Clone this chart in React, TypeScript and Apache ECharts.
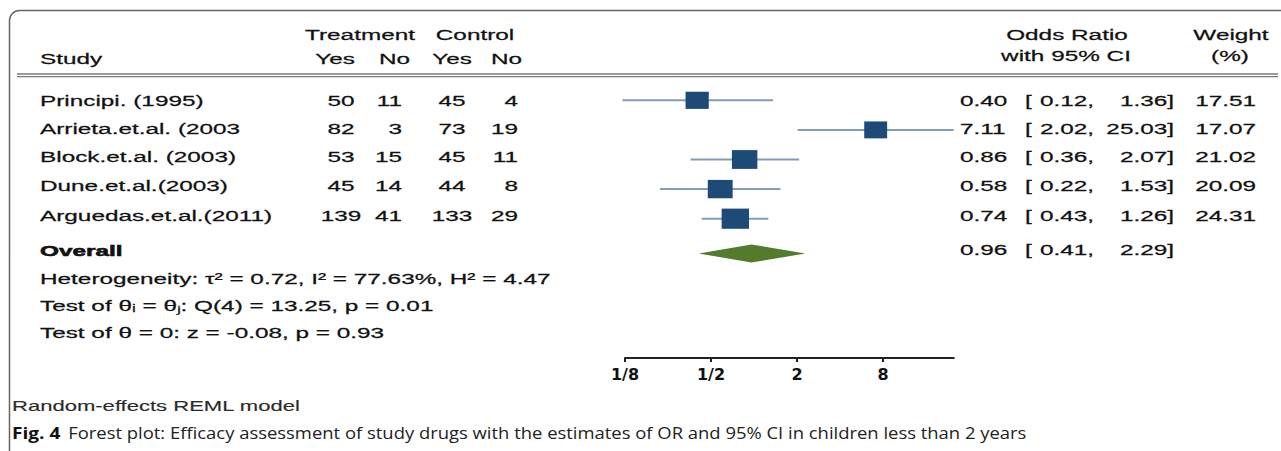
import React, { useEffect, useRef } from "react";
import * as echarts from "echarts";

// ---------- data ----------
const studies = [
  "Principi. (1995)",
  "Arrieta.et.al. (2003",
  "Block.et.al. (2003)",
  "Dune.et.al.(2003)",
  "Arguedas.et.al.(2011)",
];
const treatYes = [50, 82, 53, 45, 139];
const treatNo = [11, 3, 15, 14, 41];
const ctrlYes = [45, 73, 45, 44, 133];
const ctrlNo = [4, 19, 11, 8, 29];
const oddsRatio = [0.4, 7.11, 0.86, 0.58, 0.74];
const ciLow = [0.12, 2.02, 0.36, 0.22, 0.43];
const ciHigh = [1.36, 25.03, 2.07, 1.53, 1.26];
const weights = [17.51, 17.07, 21.02, 20.09, 24.31];
const overallLabel = "Overall";
const overallOR = [0.96];
const overallLow = [0.41];
const overallHigh = [2.29];
const tickValues = [0.125, 0.5, 2, 8];
const tickLabels = ["1/8", "1/2", "2", "8"];
const statLines = [
  "Heterogeneity: τ² = 0.72, I² = 77.63%, H² = 4.47",
  "Test of θᵢ = θⱼ: Q(4) = 13.25, p = 0.01",
  "Test of θ = 0: z = -0.08, p = 0.93",
];
const modelNote = "Random-effects REML model";
const captionBold = "Fig. 4";
const captionText =
  "Forest plot: Efficacy assessment of study drugs with the estimates of OR and 95% CI in children less than 2 years";

// ---------- layout ----------
const SX = 1.57;
const FS = 15.5;
const FONT = '"Liberation Sans", Arial, Helvetica, sans-serif';
const INK = "#111";
const textRows = [100.3, 128.7, 157, 185.6, 215.3];
const overallTextY = 251;
const statRows = [279, 306, 333];
const markRow0 = 100.3;
const markStep = 29.6;
const diamondRow = (253.5 - markRow0) / markStep;
const axisY = 358;

function txt(
  text: string,
  x: number,
  y: number,
  align: string = "left",
  extra: any = {}
) {
  return {
    type: "text",
    x,
    y,
    scaleX: extra.scaleX ?? SX,
    z: 10,
    style: {
      text,
      fill: extra.fill ?? INK,
      stroke: extra.fill ?? INK,
      lineWidth: extra.lineWidth ?? 0.25,
      fontSize: extra.fontSize ?? FS,
      fontFamily: extra.fontFamily ?? FONT,
      fontWeight: extra.fontWeight ?? "normal",
      align,
      verticalAlign: "middle",
      textAlign: align,
      textVerticalAlign: "middle",
    },
  };
}

export default function App() {
  const ref = useRef<HTMLDivElement>(null);

  useEffect(() => {
    if (!ref.current) return;
    const chart = echarts.init(ref.current, undefined, { renderer: "svg" });
    const log2 = (v: number) => Math.log(v) / Math.LN2;
    const tickLog = tickValues.map(log2);
    const xMin = log2(tickValues[0]);
    const xMax = log2(Math.max(...ciHigh));
    const yMin = -1;
    const gridTop = markRow0 - markStep;
    const gridHeight = axisY - gridTop;
    const yMax = yMin + gridHeight / markStep;

    const studyData = studies.map((_, i) => [
      log2(oddsRatio[i]),
      log2(ciLow[i]),
      log2(ciHigh[i]),
      weights[i],
      i,
    ]);
    const overallData = overallOR.map((v, i) => [
      log2(v),
      log2(overallLow[i]),
      log2(overallHigh[i]),
      diamondRow,
    ]);

    const f2 = (v: number) => v.toFixed(2);
    const graphics: any[] = [];
    // frame
    graphics.push({
      type: "rect",
      shape: { x: 9.5, y: 10.5, width: 1400, height: 600, r: 10 },
      style: { fill: "none", stroke: "#666", lineWidth: 1.5 },
      z: 1,
    });
    // double rule under header
    [74, 76.6].forEach((yy) =>
      graphics.push({
        type: "line",
        shape: { x1: 17, y1: yy, x2: 1278, y2: yy },
        style: { stroke: "#7a7a7a", lineWidth: 1.3 },
        z: 2,
      })
    );
    // headers
    graphics.push(txt("Treatment", 360, 35, "center"));
    graphics.push(txt("Control", 475, 35, "center"));
    graphics.push(txt("Study", 40, 59));
    graphics.push(txt("Yes", 355, 59, "right"));
    graphics.push(txt("No", 410, 59, "right"));
    graphics.push(txt("Yes", 472, 59, "right"));
    graphics.push(txt("No", 522, 59, "right"));
    graphics.push(txt("Odds Ratio", 1067, 35, "center"));
    graphics.push(txt("with 95% CI", 1066, 56, "center"));
    graphics.push(txt("Weight", 1231, 35, "center"));
    graphics.push(txt("(%)", 1230, 56, "center"));
    // study rows
    studies.forEach((s, i) => {
      const y = textRows[i];
      graphics.push(txt(s, 40, y));
      graphics.push(txt(String(treatYes[i]), 341, y, "center"));
      graphics.push(txt(String(treatNo[i]), 402, y, "right"));
      graphics.push(txt(String(ctrlYes[i]), 452, y, "center"));
      graphics.push(txt(String(ctrlNo[i]), 518, y, "right"));
      graphics.push(txt(f2(oddsRatio[i]), 960, y));
      graphics.push(txt("[", 1025, y));
      graphics.push(txt(f2(ciLow[i]) + ",", 1094, y, "right"));
      graphics.push(txt(f2(ciHigh[i]) + "]", 1174, y, "right"));
      graphics.push(txt(f2(weights[i]), 1256, y, "right"));
    });
    // overall row
    graphics.push(txt(overallLabel, 40, overallTextY, "left", { fontWeight: "bold", lineWidth: 0.6 }));
    graphics.push(txt(f2(overallOR[0]), 960, overallTextY - 1));
    graphics.push(txt("[", 1025, overallTextY - 1));
    graphics.push(txt(f2(overallLow[0]) + ",", 1094, overallTextY - 1, "right"));
    graphics.push(txt(f2(overallHigh[0]) + "]", 1174, overallTextY - 1, "right"));
    // statistics
    statLines.forEach((s, i) => graphics.push(txt(s, 40, statRows[i])));
    // notes
    graphics.push(txt(modelNote, 12, 406, "left", { scaleX: 1.47, fontSize: 15, fill: "#2a2a2a", lineWidth: 0.15 }));
    graphics.push({
      type: "text",
      x: 12,
      y: 433,
      scaleX: 1.19,
      z: 10,
      style: {
        text: "{b|" + captionBold + "}  {n|" + captionText + "}",
        align: "left",
        verticalAlign: "middle",
        textAlign: "left",
        textVerticalAlign: "middle",
        rich: {
          b: {
            fontFamily: '"Open Sans", "Noto Sans", sans-serif',
            fontWeight: "bold",
            fontSize: 16,
            fill: "#111",
          },
          n: {
            fontFamily: '"Open Sans", "Noto Sans", sans-serif',
            fontSize: 15.5,
            fill: "#222",
          },
        },
      },
    });

    chart.setOption({
      animation: false,
      grid: { left: 625, top: gridTop, width: (xMax - xMin) * 43, height: gridHeight, containLabel: false },
      xAxis: {
        type: "value",
        min: xMin,
        max: xMax,
        splitLine: { show: false },
        axisLine: { show: true, onZero: false, lineStyle: { color: "#222", width: 2 } },
        axisTick: {
          show: true,
          length: 4,
          lineStyle: { color: "#222", width: 2 },
          customValues: tickLog,
        },
        axisLabel: {
          show: true,
          margin: 8,
          color: INK,
          fontFamily: '"DejaVu Sans", Verdana, sans-serif',
          fontWeight: "bold",
          fontSize: 16,
          customValues: tickLog,
          formatter: (v: number) => {
            const i = tickLog.findIndex((t) => Math.abs(t - v) < 1e-6);
            return i >= 0 ? tickLabels[i] : "";
          },
        },
      },
      yAxis: {
        type: "value",
        inverse: true,
        min: yMin,
        max: yMax,
        show: false,
        splitLine: { show: false },
      },
      graphic: { elements: graphics },
      series: [
        {
          type: "custom",
          name: "Studies",
          data: studyData,
          encode: { x: [0, 1, 2], y: 4 },
          clip: false,
          renderItem: (params: any, api: any) => {
            const row = api.value(4);
            const pC = api.coord([api.value(0), row]);
            const pLo = api.coord([api.value(1), row]);
            const pHi = api.coord([api.value(2), row]);
            const sq = Math.sqrt(api.value(3));
            const w = 5.55 * sq;
            const h = 4.1 * sq;
            return {
              type: "group",
              children: [
                {
                  type: "line",
                  shape: { x1: pLo[0], y1: pLo[1], x2: pHi[0], y2: pHi[1] },
                  style: { stroke: "#809dbb", lineWidth: 2 },
                },
                {
                  type: "rect",
                  shape: { x: pC[0] - w / 2, y: pC[1] - h / 2, width: w, height: h },
                  style: { fill: "#1e4a78" },
                },
              ],
            };
          },
        },
        {
          type: "custom",
          name: "Overall",
          data: overallData,
          encode: { x: [0, 1, 2], y: 3 },
          clip: false,
          renderItem: (params: any, api: any) => {
            const row = api.value(3);
            const pC = api.coord([api.value(0), row]);
            const pLo = api.coord([api.value(1), row]);
            const pHi = api.coord([api.value(2), row]);
            const hh = 9;
            return {
              type: "polygon",
              shape: {
                points: [
                  [pLo[0], pLo[1]],
                  [pC[0], pC[1] - hh],
                  [pHi[0], pHi[1]],
                  [pC[0], pC[1] + hh],
                ],
              },
              style: { fill: "#527c2c" },
            };
          },
        },
      ],
    });

    return () => chart.dispose();
  }, []);

  return (
    <div
      ref={ref}
      style={{ position: "absolute", left: 0, top: 0, width: 1281, height: 451, background: "#fff" }}
    />
  );
}
